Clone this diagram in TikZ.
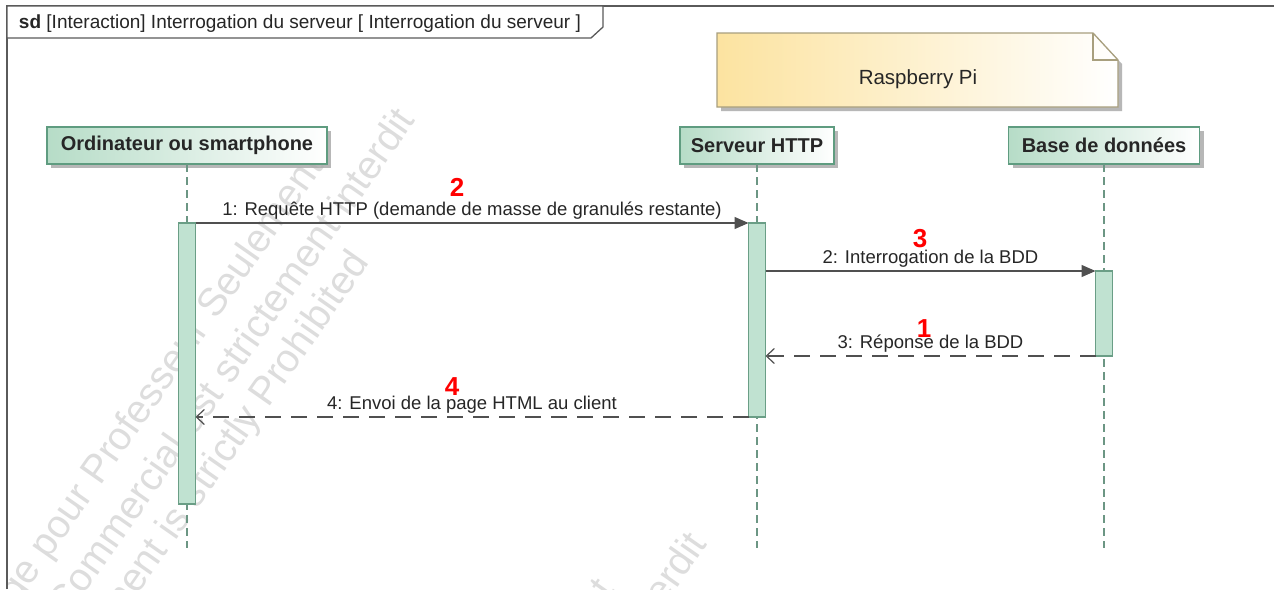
\documentclass[tikz,border=0pt]{standalone}
\usepackage{fontspec}
\setmainfont{Liberation Sans}
\usetikzlibrary{arrows.meta,shadows}

\definecolor{frameline}{HTML}{5A5A5A}
\definecolor{lifeborder}{HTML}{5F9C80}
\definecolor{lifefill}{HTML}{B6DCC7}
\definecolor{actfill}{HTML}{C0E2D1}
\definecolor{actborder}{HTML}{6A9E86}
\definecolor{lifedash}{HTML}{6C9684}
\definecolor{msgline}{HTML}{505050}
\definecolor{notefill}{HTML}{FCE3A0}
\definecolor{noteborder}{HTML}{A89F7E}
\definecolor{wmark}{HTML}{DDDDDD}
\definecolor{stepred}{HTML}{FF0000}

\tikzset{
  every node/.style={inner sep=0pt, outer sep=0pt},
  header/.style={draw=lifeborder, line width=1.3pt, left color=lifefill, right color=white,
    minimum height=37pt, font=\fontsize{20}{24}\selectfont\bfseries, text=black!85,
    drop shadow={shadow xshift=4pt, shadow yshift=-4pt, fill=black!35, opacity=0.8}},
  actbar/.style={draw=actborder, line width=1.2pt, fill=actfill, minimum width=17pt},
  lifeline/.style={draw=lifedash, line width=1.2pt, dash pattern=on 8pt off 5pt},
  syncmsg/.style={draw=msgline, line width=1.3pt, -{Triangle[length=14pt,width=12pt]}},
  replymsg/.style={draw=msgline, line width=1.3pt, dash pattern=on 16pt off 10pt,
    -{Straight Barb[length=8pt,width=15pt,line width=1.2pt]}},
  msglabel/.style={font=\fontsize{18.5}{22}\selectfont, text=black!85, anchor=base},
  stepnum/.style={font=\fontsize{26}{26}\selectfont\bfseries, text=stepred, anchor=base},
  wm/.style={font=\fontsize{39.5}{40}\selectfont, text=wmark, rotate=55, anchor=base east},
}

\begin{document}
\begin{tikzpicture}[x=1pt,y=-1pt]
\useasboundingbox (0,0) rectangle (1274,589);
\fill[white] (0,0) rectangle (1274,589);

% faint licence watermark
\begin{scope}
  \clip (7,38) rectangle (1274,589);
  \node[wm] (wmA) at (324.4,166.2) {Usage pour Professeur Seulement};
  \node[wm] (wmB) at (416.2,120.6) {Usage Commercial est strictement interdit};
  \node[wm] (wmC) at (370.4,262.6) {Commercial Development is strictly Prohibited};
  \node[wm] (wmA2) at (615.9,590.2) {Usage pour Professeur Seulement};
  \node[wm] (wmB2) at (707.7,544.6) {Usage Commercial est strictement interdit};
\end{scope}

% interaction frame and its name tab
\draw[frameline, line width=1.5pt] (7,589) -- (7,6) -- (1274,6);
\draw[frameline, line width=1.3pt, fill=white] (7,6) -- (603,6) -- (603,27) -- (591,38) -- (7,38) -- cycle;
\node[anchor=base west, font=\fontsize{19}{22}\selectfont, text=black!85] (title) at (19,28)
  {\textbf{sd} [Interaction] Interrogation du serveur [ Interrogation du serveur ]};

% note grouping the server side
\fill[black!35, opacity=0.8] (721,37) -- (1097,37) -- (1122,64) -- (1122,111) -- (721,111) -- cycle;
\path[draw=noteborder, line width=1.3pt, left color=notefill, right color=white]
  (717,33) -- (1093,33) -- (1118,60) -- (1118,107) -- (717,107) -- cycle;
\draw[noteborder, line width=1.3pt] (1093,33) -- (1093,60) -- (1118,60);
\node[font=\fontsize{20.5}{24}\selectfont, text=black!85, anchor=base] (rpi) at (918,84) {Raspberry Pi};

% lifeline heads
\node[header, minimum width=280pt] (ord) at (187,145.5) {Ordinateur ou smartphone};
\node[header, minimum width=154pt] (srv) at (757,145.5) {Serveur HTTP};
\node[header, minimum width=191pt] (bdd) at (1104,145.5) {Base de donn\'ees};

% lifelines
\coordinate (lifeend) at (0,548);
\draw[lifeline] (ord.south) -- (ord.south |- lifeend);
\draw[lifeline] (srv.south) -- (srv.south |- lifeend);
\draw[lifeline] (bdd.south) -- (bdd.south |- lifeend);

% activation bars
\node[actbar, minimum height=281pt] (actO) at (187,363.5) {};
\node[actbar, minimum height=194pt] (actS) at (757,320) {};
\node[actbar, minimum height=85pt] (actB) at (1104,313.5) {};

% messages
\draw[syncmsg] (actO.north east) -- (actS.north west)
  node[msglabel, midway, yshift=8pt] (m1) {1: Requ\^ete HTTP (demande de masse de granul\'es restante)};
\draw[syncmsg] (actS.east |- actB.north) -- (actB.north west)
  node[msglabel, midway, yshift=8pt] (m2) {2: Interrogation de la BDD};
\draw[replymsg] (actB.south west) -- (actS.east |- actB.south)
  node[msglabel, midway, yshift=8pt] (m3) {3: R\'eponse de la BDD};
\draw[replymsg] (actS.south west) -- (actO.east |- actS.south)
  node[msglabel, midway, yshift=8pt] (m4) {4: Envoi de la page HTML au client};

% step numbers
\node[stepnum] (n2) at (457,196) {2};
\node[stepnum] (n3) at (920,247) {3};
\node[stepnum] (n1) at (924,337) {1};
\node[stepnum] (n4) at (452,395) {4};
\end{tikzpicture}
\end{document}
